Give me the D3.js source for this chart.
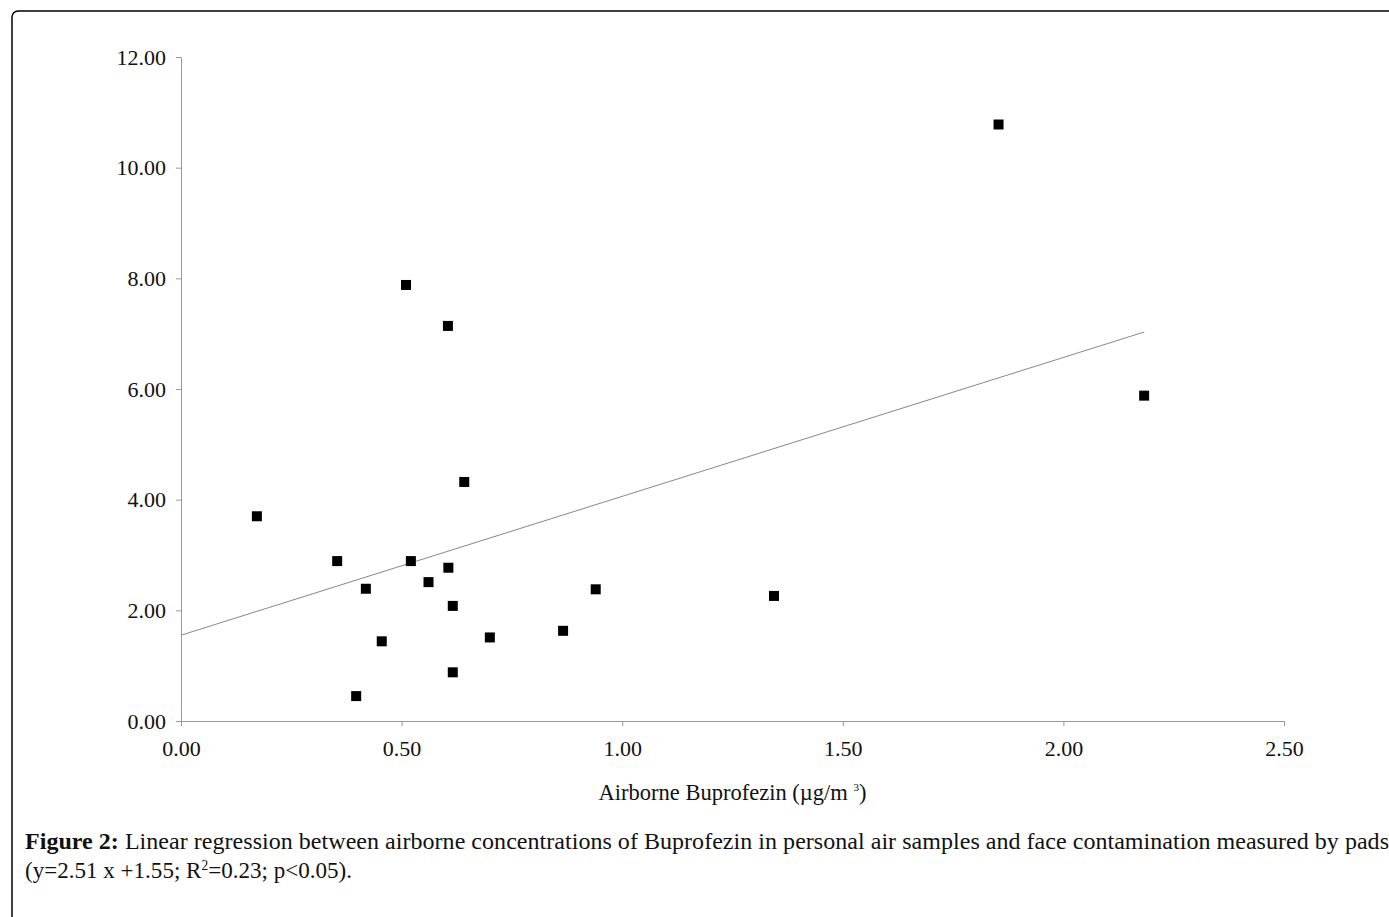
<!DOCTYPE html>
<html>
<head>
<meta charset="utf-8">
<script src="https://cdn.jsdelivr.net/npm/d3@7"></script>
<style>
  body { margin: 0; background: #fff; }
  svg { display: block; }
</style>
</head>
<body>
<div id="chart"></div>
<script>
// airborne buprofezin (ug/m3) vs face pad contamination
const airborne = [0.172, 0.354, 0.419, 0.397, 0.455, 0.510, 0.521, 0.561, 0.606, 0.605,
                  0.616, 0.616, 0.642, 0.700, 0.866, 0.940, 1.344, 1.853, 2.183];
const face = [3.70, 2.89, 2.39, 0.45, 1.44, 7.88, 2.89, 2.51, 2.77, 7.14,
              2.08, 0.88, 4.32, 1.51, 1.63, 2.38, 2.26, 10.78, 5.88];
const slope = 2.51, intercept = 1.55;
const xTicks = [0, 0.5, 1.0, 1.5, 2.0, 2.5];
const yTicks = [0, 2, 4, 6, 8, 10, 12];

const W = 1389, H = 917;
const margin = {top: 57, right: 105, bottom: 196, left: 181};
const width = W - margin.left - margin.right,
      height = H - margin.top - margin.bottom;

const svg = d3.select("#chart").append("svg")
  .attr("width", W).attr("height", H);

// frame round the figure
svg.append("rect")
  .attr("x", 12).attr("y", 11)
  .attr("width", W + 20).attr("height", H + 20)
  .attr("rx", 6)
  .attr("fill", "none").attr("stroke", "#000").attr("stroke-width", 1.5);

const x = d3.scaleLinear().domain([0, 2.5]).range([0, width]);
const y = d3.scaleLinear().domain([0, 12]).range([height, 0]);

const plot = svg.append("g")
  .attr("transform", "translate(" + margin.left + "," + margin.top + ")");

const xAxis = d3.axisBottom(x).tickValues(xTicks).tickFormat(d3.format(".2f"))
  .tickSize(5).tickSizeOuter(0).tickPadding(14);
const yAxis = d3.axisLeft(y).tickValues(yTicks).tickFormat(d3.format(".2f"))
  .tickSize(5).tickSizeOuter(0).tickPadding(10);

const gx = plot.append("g").attr("transform", "translate(0," + height + ")").call(xAxis);
const gy = plot.append("g").call(yAxis);

[gx, gy].forEach(g => {
  g.select(".domain").attr("stroke", "#999");
  g.selectAll(".tick line").attr("stroke", "#999");
  g.selectAll(".tick text")
    .style("font-family", "'Liberation Serif', 'Times New Roman', serif")
    .style("font-size", "22px")
    .attr("fill", "#111");
});
// x-axis line also runs left of the origin by a tick length
gx.select(".domain").attr("d", "M-5,0.5H" + width);

// regression line
const xmax = d3.max(airborne);
plot.append("line")
  .attr("x1", x(0)).attr("y1", y(intercept))
  .attr("x2", x(xmax)).attr("y2", y(slope * xmax + intercept))
  .attr("stroke", "#888").attr("stroke-width", 1);

// points
plot.selectAll(".pt")
  .data(airborne.map((d, i) => [d, face[i]]))
  .enter().append("rect")
  .attr("class", "pt")
  .attr("x", d => x(d[0]) - 5)
  .attr("y", d => y(d[1]) - 5)
  .attr("width", 10).attr("height", 10)
  .attr("fill", "#000");

// axis title
const title = plot.append("text")
  .attr("x", width / 2).attr("y", height + 79)
  .attr("text-anchor", "middle")
  .style("font-family", "'Liberation Serif', 'Times New Roman', serif")
  .style("font-size", "22.5px")
  .attr("fill", "#111");
title.append("tspan").text("Airborne Buprofezin (\u00b5g/m ");
title.append("tspan").attr("dy", -9).style("font-size", "11px").text("3");
title.append("tspan").attr("dy", 9).text(")");

// caption
const cap1 = svg.append("text")
  .attr("x", 25).attr("y", 849)
  .attr("textLength", 1364).attr("lengthAdjust", "spacing")
  .style("font-family", "'Liberation Serif', 'Times New Roman', serif")
  .style("font-size", "24px")
  .attr("fill", "#111");
cap1.append("tspan").style("font-weight", "bold").text("Figure 2:");
cap1.append("tspan").text(" Linear regression between airborne concentrations of Buprofezin in personal air samples and face contamination measured by pads");

const cap2 = svg.append("text")
  .attr("x", 25).attr("y", 878)
  .attr("textLength", 327).attr("lengthAdjust", "spacingAndGlyphs")
  .style("font-family", "'Liberation Serif', 'Times New Roman', serif")
  .style("font-size", "24px")
  .attr("fill", "#111");
cap2.append("tspan").text("(y=2.51 x +1.55; R");
cap2.append("tspan").attr("dy", -8).style("font-size", "14px").text("2");
cap2.append("tspan").attr("dy", 8).text("=0.23; p<0.05).");
</script>
</body>
</html>
